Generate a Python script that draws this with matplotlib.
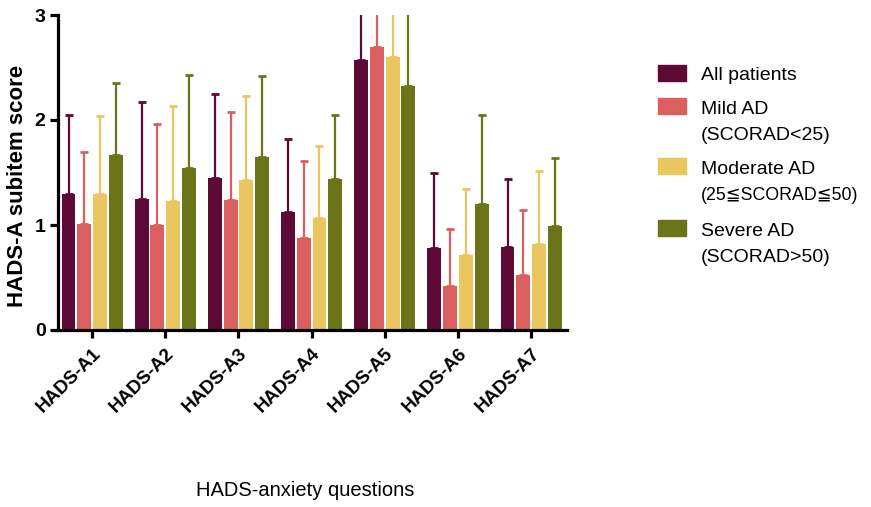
import numpy as np
import matplotlib
matplotlib.use('Agg')
import matplotlib.pyplot as plt
from matplotlib.patches import Rectangle

plt.rcParams['font.family'] = ['Liberation Sans', 'DejaVu Sans']

# ----- Data -----
questions = ['HADS-A1', 'HADS-A2', 'HADS-A3', 'HADS-A4', 'HADS-A5', 'HADS-A6', 'HADS-A7']
group_names = ['All patients', 'Mild AD', 'Moderate AD', 'Severe AD']
group_notes = ['', '(SCORAD<25)', '(25≦SCORAD≦50)', '(SCORAD>50)']
colors = ['#5c0a35', '#d9605e', '#e9c65f', '#6b7418']

mean_all = [1.30, 1.25, 1.45, 1.12, 2.57, 0.78, 0.79]
sd_all = [0.75, 0.92, 0.80, 0.70, 0.85, 0.72, 0.65]
mean_mild = [1.01, 1.00, 1.24, 0.88, 2.70, 0.42, 0.52]
sd_mild = [0.69, 0.96, 0.84, 0.73, 0.80, 0.54, 0.62]
mean_mod = [1.30, 1.23, 1.43, 1.07, 2.60, 0.71, 0.82]
sd_mod = [0.74, 0.90, 0.80, 0.68, 0.80, 0.63, 0.69]
mean_sev = [1.67, 1.54, 1.65, 1.44, 2.32, 1.20, 0.99]
sd_sev = [0.68, 0.89, 0.77, 0.61, 0.88, 0.85, 0.65]

means = [mean_all, mean_mild, mean_mod, mean_sev]
sds = [sd_all, sd_mild, sd_mod, sd_sev]

# ----- Figure -----
fig = plt.figure(figsize=(8.71, 5.07), dpi=100)
ax = fig.add_axes([58 / 871, 1 - 330 / 507, (567 - 58) / 871, (330 - 15) / 507])

x = np.arange(len(questions))
step = 0.215
width = 0.19
for k in range(4):
    xs = x + (k - 1.5) * step
    m = np.array(means[k])
    s = np.array(sds[k])
    ax.bar(xs, m, width, color=colors[k], zorder=2)
    ax.errorbar(xs, m, yerr=[np.zeros_like(s), s], fmt='none', ecolor=colors[k],
                elinewidth=1.6, capsize=3, capthick=2, zorder=1)

ax.set_xlim(-0.466, 6.49)
ax.set_ylim(0, 3)
ax.set_yticks([0, 1, 2, 3])
ax.set_xticks(x)
ax.set_xticklabels(questions, rotation=45, ha='right', rotation_mode='anchor',
                   fontsize=13.5, fontweight='bold')
for lab in ax.get_yticklabels():
    lab.set_fontweight('bold')
    lab.set_fontsize(14)

for sp in ['top', 'right']:
    ax.spines[sp].set_visible(False)
for sp in ['left', 'bottom']:
    ax.spines[sp].set_linewidth(2.3)
ax.tick_params(axis='both', width=2.3, length=6, pad=3)
ax.tick_params(axis='x', pad=5)

ax.set_ylabel('HADS-A subitem score', fontsize=16, fontweight='bold')
ax.yaxis.set_label_coords(-0.059, 0.457)
fig.text(305 / 871, 1 - 490 / 507, 'HADS-anxiety questions', fontsize=14.5,
         ha='center', va='center')

# ----- Legend (drawn by hand so the box sits on the first line) -----
box_top = [65, 98, 158, 220]
for k in range(4):
    fig.patches.append(Rectangle((658 / 871, 1 - (box_top[k] + 16) / 507), 28 / 871, 16 / 507,
                                 transform=fig.transFigure, color=colors[k]))
    base = box_top[k] + 15.5
    fig.text(701 / 871, 1 - base / 507, group_names[k], fontsize=14,
             ha='left', va='baseline')
    if group_notes[k]:
        size = 12.8 if '≦' in group_notes[k] else 14
        fig.text(701 / 871, 1 - (base + 26) / 507, group_notes[k], fontsize=size,
                 ha='left', va='baseline')

fig.savefig('out.png', dpi=100)
